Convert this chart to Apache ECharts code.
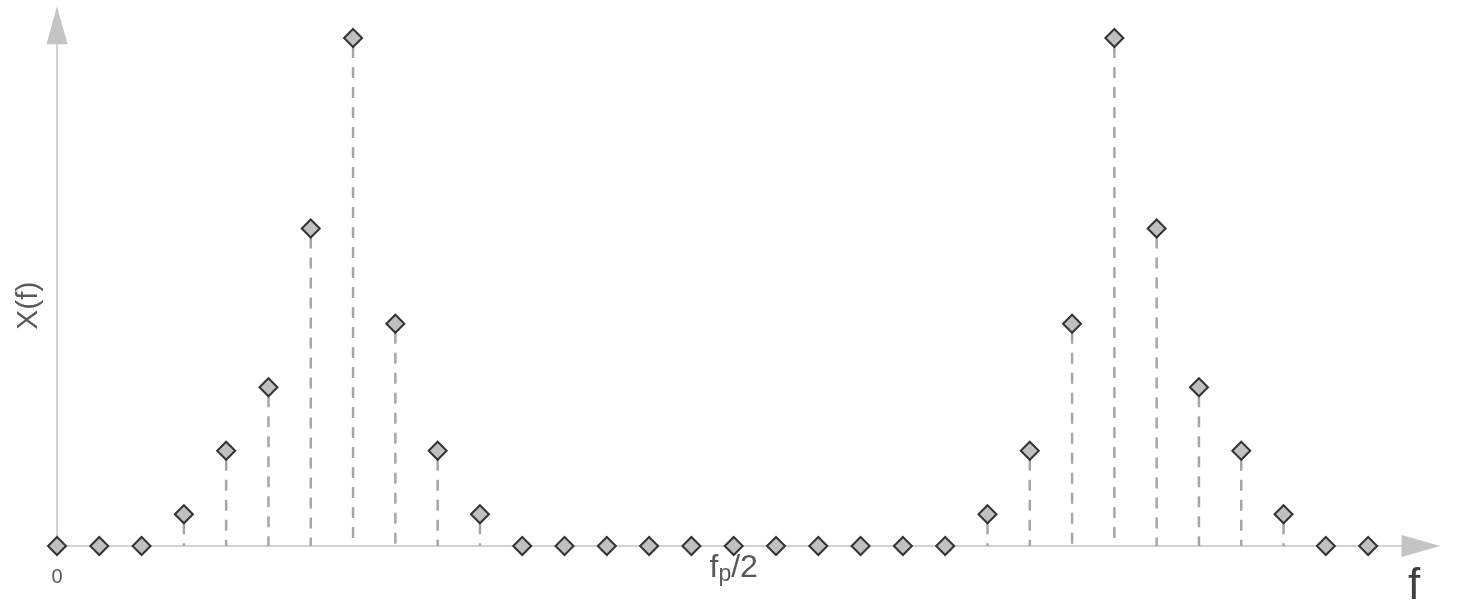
<!DOCTYPE html>
<html>
<head>
<meta charset="utf-8">
<script src="https://cdn.jsdelivr.net/npm/echarts@6/dist/echarts.min.js"></script>
<style>html,body{margin:0;padding:0;background:#fff}#c{width:1461px;height:608px}</style>
</head>
<body>
<div id="c"></div>
<script>
const freqIndex = [0,1,2,3,4,5,6,7,8,9,10,11,12,13,14,15,16,17,18,19,20,21,22,23,24,25,26,27,28,29,30,31];
const amplitude = [0,0,0,0.5,1.5,2.5,5,8,3.5,1.5,0.5,0,0,0,0,0,0,0,0,0,0,0,0.5,1.5,3.5,8,5,2.5,1.5,0.5,0,0];
const tickValues = [0, 16];
const tickLabels = ['0', 'fp/2'];

const points = freqIndex.map((x, i) => [x, amplitude[i]]);
const chart = echarts.init(document.getElementById('c'), null, {renderer: 'canvas'});
const font = 'Liberation Sans, Arial, sans-serif';

chart.setOption({
  animation: false,
  title: [{
    text: 'f', left: 1408, top: 565, padding: 0,
    textStyle: {fontSize: 44, color: '#404040', fontWeight: 'normal', fontFamily: font}
  }],
  grid: {left: 57, right: 40, top: 25.3, bottom: 62, containLabel: false, outerBoundsMode: 'none'},
  xAxis: {
    type: 'value', min: 0, max: 32.25,
    axisLine: {show: true, onZero: false, symbol: ['none', 'triangle'], symbolSize: [22, 39], lineStyle: {color: '#c4c4c4', width: 1.5}},
    axisTick: {show: false},
    splitLine: {show: false},
    axisLabel: {
      customValues: tickValues, showMinLabel: true, margin: 5,
      fontSize: 20, color: '#595959', fontFamily: font,
      formatter: function (v) {
        const i = tickValues.indexOf(v);
        if (i < 0) return '';
        const t = tickLabels[i];
        if (t === '0') return '{zr|0}';
        return '{fa|f}{fs|p}{fa|/2}';
      },
      rich: {
        zr: {fontSize: 20, color: '#595959', fontFamily: font, padding: [16, 0, 0, 0]},
        fa: {fontSize: 32, color: '#595959', fontFamily: font},
        fs: {fontSize: 23, color: '#595959', fontFamily: font, padding: [12, 0, 0, 0]}
      }
    }
  },
  yAxis: {
    type: 'value', min: 0, max: 8.2,
    name: 'X(f)', nameLocation: 'middle', nameGap: 13, nameRotate: 90,
    nameTextStyle: {fontSize: 30, color: '#595959', fontFamily: font, padding: [0, 40, 0, 0]},
    axisLine: {show: true, symbol: ['none', 'triangle'], symbolSize: [21, 38], lineStyle: {color: '#c4c4c4', width: 1.5}},
    axisTick: {show: false},
    splitLine: {show: false},
    axisLabel: {show: false}
  },
  series: [
    {
      type: 'custom',
      data: points,
      z: 2,
      renderItem: function (params, api) {
        const x = api.value(0), v = api.value(1);
        if (!(v > 0)) return null;
        const top = api.coord([x, v]);
        const bot = api.coord([x, 0]);
        return {
          type: 'line',
          shape: {x1: top[0], y1: top[1] + 9, x2: bot[0], y2: bot[1]},
          style: {stroke: '#a6a6a6', lineWidth: 2.5, lineDash: [11, 9]}
        };
      }
    },
    {
      type: 'scatter',
      data: points,
      z: 3,
      symbol: 'diamond',
      symbolSize: 18,
      itemStyle: {color: '#c0c0c0', borderColor: '#333333', borderWidth: 2, opacity: 1}
    }
  ]
});
</script>
</body>
</html>
